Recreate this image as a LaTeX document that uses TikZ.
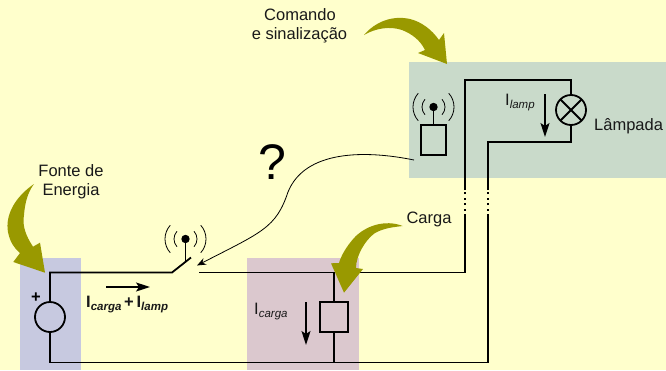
\documentclass[tikz,border=0pt]{standalone}
\usepackage{fontspec}
\setmainfont{Liberation Sans}
\usetikzlibrary{calc,arrows.meta}

\definecolor{fundo}{HTML}{FFFFCC}
\definecolor{verdeclaro}{HTML}{C9DACA}
\definecolor{azulclaro}{HTML}{C7C9E0}
\definecolor{rosaclaro}{HTML}{DBC8CE}
\definecolor{oliva}{HTML}{999900}

\newcommand{\curlab}[1]{I\raisebox{-3pt}{\fontsize{11.5}{11.5}\selectfont\itshape #1}}

\tikzset{
    wire/.style={line width=1.8pt},
    comp/.style={draw,line width=1.8pt,inner sep=0pt,outer sep=0pt},
    curarrow/.style={line width=1.6pt,-{Stealth[length=14pt,width=9pt,inset=3pt]}},
    seta/.style={fill=oliva,draw=none},
    rotulo/.style={font=\fontsize{16.5}{16.5}\selectfont,inner sep=0pt,text=black!90},
    zona/.style={draw=none}
}

\begin{document}
\begin{tikzpicture}[x=1pt,y=-1pt]
    \useasboundingbox (0,0) rectangle (666,370);
    \fill[fundo] (0,0) rectangle (666,370);

    % blocos
    \fill[zona,verdeclaro] (409,62) rectangle (666,178);
    \fill[zona,azulclaro] (20,258) rectangle (80.5,370);
    \fill[zona,rosaclaro] (247,258) rectangle (359,370);

    % componentes
    \node[comp,circle,minimum size=30pt] (fonte) at (50,317) {};
    \node[comp,circle,minimum size=30pt] (lampada) at (571,110) {};
    \draw[wire] (lampada.45) -- (lampada.225);
    \draw[wire] (lampada.135) -- (lampada.315);
    \node[comp,minimum width=28pt,minimum height=30pt] (carga) at (334,317) {};
    \node[comp,minimum width=25pt,minimum height=30pt] (caixa) at (433.5,140) {};

    \coordinate (chaveA) at (172,272.5);
    \coordinate (chaveB) at (191,257.5);
    \coordinate (chaveC) at (199,272.5);
    \coordinate (noCarga) at (334,272.5);
    \coordinate (fioA) at (465,272.5);
    \coordinate (fioB) at (465,216);
    \coordinate (fioC) at (465,190);
    \coordinate (fioD) at (465,80);
    \coordinate (fioE) at (488,362.5);
    \coordinate (fioF) at (488,216);
    \coordinate (fioG) at (488,190);
    \coordinate (fioH) at (488,142);
    \coordinate (retorno) at (50,362.5);
    \coordinate (noRetorno) at (334,362.5);

    % fios
    \draw[wire] (fonte.north) |- (chaveA) -- (chaveB);
    \draw[wire] (fonte.south) -- (retorno) -- (fioE) -- (fioF);
    \draw[wire] (chaveC) -- (fioA) -- (fioB);
    \draw[wire] (noCarga) -- (carga.north);
    \draw[wire] (carga.south) -- (noRetorno);
    \draw[wire] (fioC) -- (fioD) -| (lampada.north);
    \draw[wire] (fioG) -- (fioH) -| (lampada.south);
    \draw[wire,dash pattern=on 2pt off 3.5pt] (fioB) -- (fioC);
    \draw[wire,dash pattern=on 2pt off 3.5pt] (fioF) -- (fioG);

    % antenas
    \coordinate (bolaA) at (185.5,239);
    \coordinate (hasteA) at (185.5,262);
    \coordinate (bolaB) at (433.5,107);
    \foreach \b/\h in {bolaA/hasteA,bolaB/caixa.north}{
        \fill (\b) circle (4.2pt);
        \draw[wire] (\b) -- (\h);
        \foreach \r/\a in {11.5/42,20.5/42}{
            \draw[line width=0.8pt] ($(\b)+(-\a:\r pt)$) arc[start angle=-\a,end angle=\a,radius=\r pt];
            \draw[line width=0.8pt] ($(\b)+(180-\a:\r pt)$) arc[start angle=180-\a,end angle=180+\a,radius=\r pt];
        }
    }

    % sinal de comando
    \coordinate (sinalA) at (414,160);
    \coordinate (sinalB) at (288,192);
    \coordinate (sinalC) at (197,265.5);
    \draw[line width=0.8pt,-{Stealth[length=9pt,width=7pt]}] (sinalA) .. controls (365,150) and (305,150) .. (sinalB)
        .. controls (276,228) and (262,232) .. (sinalC);

    % correntes
    \coordinate (iA) at (106,287);
    \coordinate (iB) at (150,287);
    \coordinate (iC) at (306,302);
    \coordinate (iD) at (306,345);
    \coordinate (iE) at (545,94);
    \coordinate (iF) at (545,137);
    \draw[curarrow] (iA) -- (iB);
    \draw[curarrow] (iC) -- (iD);
    \draw[curarrow] (iE) -- (iF);

    % setas grandes
    \path[seta] (34,184) .. controls (15,197) and (5,215) .. (8,232) .. controls (10,242) and (14,248) .. (20,253)
        -- (13.3,262) -- (45,272.7) -- (40,242.7) -- (33,246.7) .. controls (26,236) and (22,226) .. (24,215)
        .. controls (25,202) and (28,192) .. (34,184) -- cycle;
    \path[seta] (402.7,226) .. controls (385,219) and (365,226) .. (354,238) .. controls (346,247) and (341,256) .. (339,263)
        -- (331,263.3) -- (344,292.7) -- (363,269) -- (356,268) .. controls (356,256) and (365,240) .. (375,233)
        .. controls (384,228) and (394,227) .. (402.7,226) -- cycle;
    \path[seta] (364,35) .. controls (375,22) and (392,15) .. (410,19) .. controls (422,22) and (432,30) .. (439,40)
        -- (444,33) -- (447,64) -- (418,53) -- (425,50) .. controls (420,40) and (412,34) .. (402,30)
        .. controls (390,26) and (376,28) .. (364,35) -- cycle;

    % textos
    \node[rotulo] (comando) at (300,14.5) {Comando};
    \node[rotulo] (sinalizacao) at (299.5,35) {e sinalização};
    \node[rotulo] (fonteA) at (71,171) {Fonte de};
    \node[rotulo] (fonteB) at (71,191) {Energia};
    \node[rotulo] (cargaL) at (429,219) {Carga};
    \node[rotulo,anchor=west] (lampadaL) at (594,126.5) {Lâmpada};
    \node[font=\fontsize{50}{50}\selectfont,inner sep=0pt] (duvida) at (272.5,162) {?};
    \node[font=\fontsize{16.5}{16.5}\selectfont\bfseries,inner sep=0pt] (mais) at (36,298) {+};
    \node[rotulo,anchor=west] (iTotal) at (86,305) {\bfseries\curlab{carga}\,+\,\curlab{lamp}};
    \node[rotulo,anchor=west] (iCarga) at (254,312) {\curlab{carga}};
    \node[rotulo,anchor=west] (iLamp) at (505,103) {\curlab{lamp}};
\end{tikzpicture}
\end{document}
